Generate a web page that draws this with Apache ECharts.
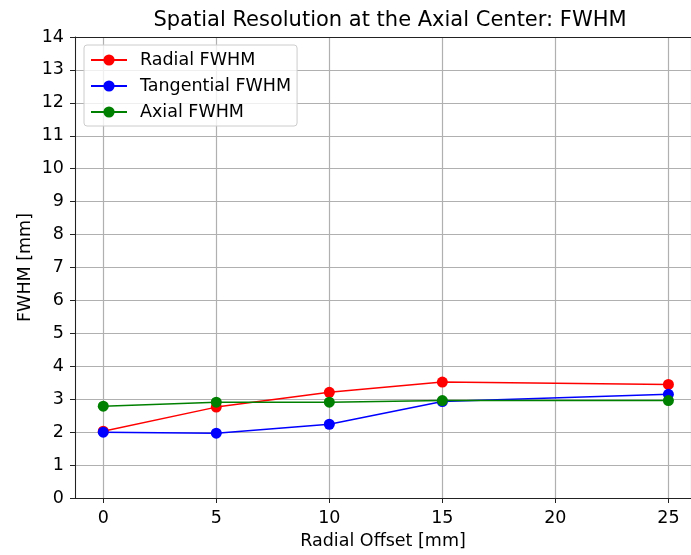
<!DOCTYPE html>
<html>
<head>
<meta charset="utf-8">
<script src="https://cdn.jsdelivr.net/npm/echarts@6/dist/echarts.min.js"></script>
<style>
  html, body { margin: 0; padding: 0; background: #fff; }
  #chart { width: 691px; height: 555px; }
</style>
</head>
<body>
<div id="chart"></div>
<script>
// radial offsets [mm]
const offsets = [0, 5, 10, 15, 25]
const radialFwhm = [2.03, 2.76, 3.21, 3.52, 3.45]
const tangentialFwhm = [2.0, 1.97, 2.24, 2.93, 3.15]
const axialFwhm = [2.79, 2.91, 2.91, 2.96, 2.96]

function pairs(ys) {
    return offsets.map((x, i) => [x, ys[i]])
}

const font = "DejaVu Sans"
const fs = 17.5
// the figure is cut off on the right, so the visible x range ends near 26
const xMin = -1.25
const xMax = 26.0
const chart = echarts.init(document.getElementById("chart"))

function line(name, color, ys) {
    return {
        name: name,
        type: "line",
        symbol: "circle",
        symbolSize: 11,
        showSymbol: true,
        color: color,
        lineStyle: { color: color, width: 1.5 },
        itemStyle: { color: color },
        emphasis: { disabled: true },
        data: pairs(ys)
    }
}

const option = {
    animation: false,
    textStyle: { fontFamily: font },
    title: {
        text: "Spatial Resolution at the Axial Center: FWHM",
        left: 385,
        top: 5,
        textAlign: "center",
        textStyle: { fontFamily: font, fontSize: 21, fontWeight: "normal", color: "#000" }
    },
    grid: {
        left: 75,
        top: 37,
        right: 0,
        bottom: 56
    },
    legend: {
        orient: "vertical",
        left: 84,
        top: 45,
        padding: [6, 6, 5, 6],
        itemWidth: 36,
        itemHeight: 14,
        itemGap: 8,
        backgroundColor: "rgba(255,255,255,0.8)",
        borderColor: "#cccccc",
        borderWidth: 1,
        borderRadius: 3,
        textStyle: { fontFamily: font, fontSize: fs, color: "#000", padding: [0, 0, 0, 8] },
        data: ["Radial FWHM", "Tangential FWHM", "Axial FWHM"]
    },
    xAxis: [{
        type: "value",
        min: xMin,
        max: xMax,
        splitNumber: 5,
        name: "Radial Offset [mm]",
        nameLocation: "middle",
        nameGap: 34,
        nameMoveOverlap: false,
        nameTextStyle: { fontFamily: font, fontSize: fs, color: "#000" },
        axisLine: { show: true, onZero: false, lineStyle: { color: "#222", width: 1 } },
        axisTick: { show: true, length: 5, lineStyle: { color: "#222" } },
        axisLabel: {
            fontFamily: font,
            fontSize: fs,
            color: "#000",
            margin: 11,
            showMinLabel: false,
            showMaxLabel: false,
            formatter: v => (v % 5 === 0 ? String(v) : "")
        },
        splitLine: { show: true, lineStyle: { color: "#b0b0b0", width: 1.2 } }
    }, {
        // top spine only
        type: "value",
        position: "top",
        min: xMin,
        max: xMax,
        axisLine: { show: true, onZero: false, lineStyle: { color: "#222", width: 1 } },
        axisTick: { show: false },
        axisLabel: { show: false },
        splitLine: { show: false }
    }],
    yAxis: {
        type: "value",
        min: 0,
        max: 14,
        interval: 1,
        name: "FWHM [mm]",
        nameLocation: "middle",
        nameGap: 41,
        nameMoveOverlap: false,
        nameTextStyle: { fontFamily: font, fontSize: fs, color: "#000" },
        axisLine: { show: true, onZero: false, lineStyle: { color: "#222", width: 1 } },
        axisTick: { show: true, length: 5, lineStyle: { color: "#222" } },
        axisLabel: { fontFamily: font, fontSize: fs, color: "#000", margin: 11 },
        splitLine: { show: true, lineStyle: { color: "#b0b0b0", width: 1.2 } }
    },
    series: [
        line("Radial FWHM", "#ff0000", radialFwhm),
        line("Tangential FWHM", "#0000ff", tangentialFwhm),
        line("Axial FWHM", "#008000", axialFwhm)
    ]
}

chart.setOption(option)
</script>
</body>
</html>
